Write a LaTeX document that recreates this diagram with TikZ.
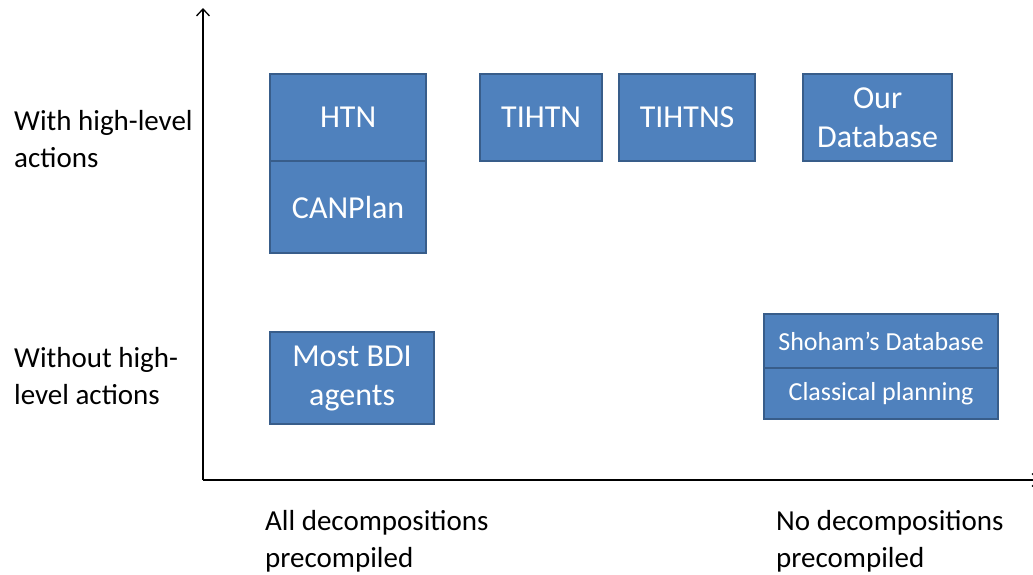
\documentclass[tikz,border=0pt]{standalone}
\usepackage{fontspec}
\setmainfont{Carlito}
\usetikzlibrary{arrows.meta}
\definecolor{boxfill}{HTML}{4F81BD}
\definecolor{boxline}{HTML}{385D8A}
\begin{document}
\begin{tikzpicture}[x=1pt,y=-1pt,
  blue box/.style={draw=boxline,line width=2.2pt,fill=boxfill,text=white,inner sep=0pt,anchor=north west,align=center,font=\fontsize{32}{39}\selectfont},
  small box/.style={blue box,font=\fontsize{26}{30}\selectfont},
  axis label/.style={anchor=north west,align=left,inner sep=0pt,font=\fontsize{29}{37}\selectfont},
  axis/.style={line width=1.6pt,-{Straight Barb[length=7pt,width=13pt,line width=1.3pt]}}]
\clip (0,0) rectangle (1033,574);
\useasboundingbox (0,0) rectangle (1033,574);
\coordinate (O) at (203,480);
\coordinate (ytop) at (203,8);
\coordinate (xend) at (1040,480);
\draw[axis] (O) -- (ytop);
\draw[axis] (O) -- (xend);
\node[blue box,minimum width=156pt,minimum height=87pt] (htn) at (269,73) {HTN};
\node[blue box,minimum width=156pt,minimum height=92pt] (canplan) at (269,160) {CANPlan};
\node[blue box,minimum width=122pt,minimum height=87pt] (tihtn) at (479,73) {TIHTN};
\node[blue box,minimum width=136pt,minimum height=87pt] (tihtns) at (618,73) {TIHTNS};
\node[blue box,minimum width=149pt,minimum height=87pt] (ourdb) at (802,73) {Our\\Database};
\node[blue box,minimum width=164pt,minimum height=92pt] (bdi) at (269,331) {Most BDI\\agents};
\node[small box,minimum width=234pt,minimum height=54pt] (shoham) at (763,313) {Shoham’s Database};
\node[small box,minimum width=234pt,minimum height=51pt] (classical) at (763,367) {Classical planning};
\node[axis label] (with) at (14,110) {With high-level\\actions};
\node[axis label] (without) at (14,347) {Without high-\\level actions};
\node[axis label] (alldec) at (265,510) {All decompositions\\precompiled};
\node[axis label] (nodec) at (776,510) {No decompositions\\precompiled};
\end{tikzpicture}
\end{document}
